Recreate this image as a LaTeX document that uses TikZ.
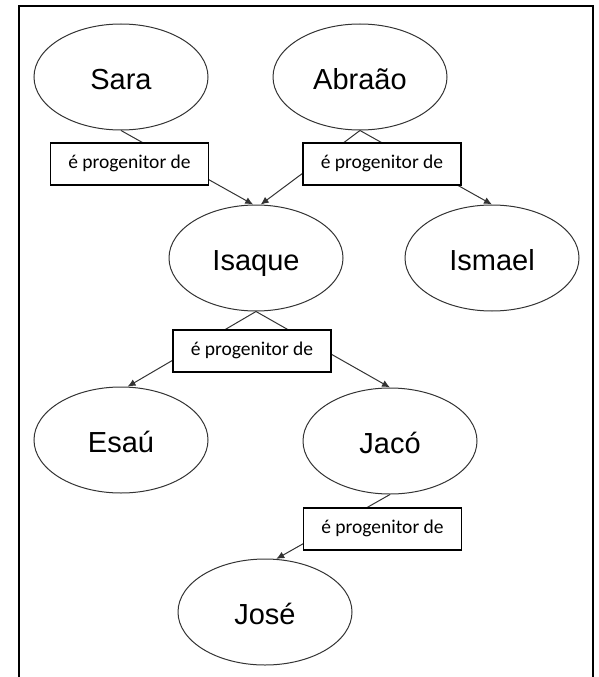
\documentclass[tikz,border=0pt]{standalone}
\usepackage{fontspec}
\setmainfont{Liberation Sans}
\newfontfamily\labelfont{Carlito}
\usetikzlibrary{shapes.geometric,arrows.meta}
\definecolor{outline}{HTML}{333333}
\tikzset{
  person/.style={ellipse, draw=outline, line width=1pt, fill=white,
    minimum width=174pt, minimum height=106pt, inner sep=0pt,
    text height=20.8pt, text depth=0pt,
    font=\fontsize{29}{32}\selectfont},
  relbox/.style={rectangle, draw=black, line width=1.4pt, fill=white,
    minimum width=158pt, minimum height=42pt, inner sep=0pt,
    text height=13pt, text depth=4pt,
    font=\labelfont\fontsize{19.5}{22}\selectfont},
  link/.style={draw=outline, line width=1pt,
    -{Latex[length=8pt,width=7pt]}},
}
\begin{document}
\begin{tikzpicture}[x=1pt,y=-1pt]
  \useasboundingbox (0,0) rectangle (599,677);
  % outer frame, open at the bottom edge
  \draw[line width=2pt] (19,677) -- (19,6) -- (593,6) -- (593,677);

  % people
  \node[person] (sara)   at (121,77)  {\raisebox{-2pt}{Sara}};
  \node[person] (abraao) at (360,77)  {\raisebox{-2pt}{Abraão}};
  \node[person] (isaque) at (256,258) {\raisebox{-2pt}{Isaque}};
  \node[person] (ismael) at (492,258) {\raisebox{-2pt}{Ismael}};
  \node[person] (esau)   at (121,440) {\raisebox{-2pt}{Esaú}};
  \node[person] (jaco)   at (390,441) {\raisebox{-2pt}{Jacó}};
  \node[person] (jose)   at (265,612) {\raisebox{-2pt}{José}};

  % parent links
  \draw[link] (sara.south)   -- (isaque.93);
  \draw[link] (abraao.south) -- (isaque.85);
  \draw[link] (abraao.south) -- (ismael.north);
  \draw[link] (isaque.south) -- (esau.83);
  \draw[link] (isaque.south) -- (jaco.north);
  \draw[link] (jaco.south)   -- (jose.78);

  % relation labels over the links
  \node[relbox] (rel1) at (129.5,164) {é progenitor de};
  \node[relbox] (rel2) at (382,164)   {é progenitor de};
  \node[relbox] (rel3) at (252,351)   {é progenitor de};
  \node[relbox] (rel4) at (382.5,529) {é progenitor de};
\end{tikzpicture}
\end{document}
